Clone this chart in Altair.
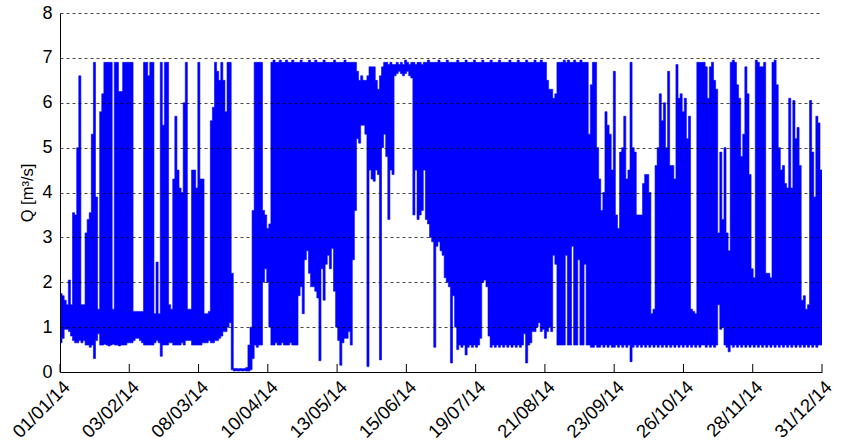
import altair as alt
import pandas as pd

# Daily maximum / minimum of the flow Q [m3/s] (day 0 = 01/01/14)
DAY_HIGH = [
    1.75, 1.7, 1.6, 1.5, 2.05, 1.5, 3.55, 3.5, 5.0, 6.6,
    1.5, 1.5, 3.1, 3.4, 3.55, 5.3, 6.9, 3.9, 1.4, 5.8,
    6.2, 6.9, 6.9, 6.9, 6.9, 1.4, 6.9, 6.9, 6.25, 6.25,
    6.9, 6.9, 6.9, 6.9, 6.9, 1.35, 1.35, 1.35, 1.35, 1.35,
    6.9, 6.9, 6.6, 6.9, 6.9, 1.3, 2.45, 1.3, 6.9, 5.5,
    6.9, 6.9, 1.5, 1.4, 4.3, 5.7, 4.5, 4.1, 4.0, 6.0,
    6.9, 1.4, 1.4, 4.5, 4.5, 4.1, 6.9, 4.3, 4.3, 1.3,
    1.3, 1.35, 5.6, 5.9, 6.9, 6.7, 6.5, 6.9, 6.5, 5.8,
    6.9, 6.9, 2.2, 0.08, 0.08, 0.07, 0.08, 0.07, 0.08, 0.1,
    0.6, 1.0, 3.6, 6.9, 6.9, 6.9, 6.9, 3.6, 3.5, 3.2,
    3.3, 6.9, 6.95, 6.9, 6.9, 6.95, 6.9, 6.9, 6.95, 6.9,
    6.9, 6.95, 6.9, 6.9, 6.9, 6.95, 6.9, 6.9, 6.9, 6.95,
    6.9, 6.9, 6.95, 6.9, 6.9, 6.9, 6.95, 6.9, 6.9, 6.9,
    6.9, 6.95, 6.9, 6.9, 6.9, 6.9, 6.95, 6.9, 6.9, 6.9,
    6.9, 6.9, 6.7, 6.5, 6.6, 6.5, 6.5, 6.6, 6.8, 6.8,
    6.8, 6.5, 6.3, 6.6, 6.8, 6.9, 6.9, 6.85, 6.9, 6.85,
    6.85, 6.9, 6.85, 6.9, 6.85, 6.95, 6.9, 6.85, 6.9, 6.9,
    6.85, 6.9, 6.9, 6.85, 6.9, 6.9, 6.95, 6.9, 6.9, 6.9,
    6.9, 6.95, 6.9, 6.9, 6.9, 6.95, 6.9, 6.9, 6.9, 6.9,
    6.95, 6.9, 6.9, 6.9, 6.95, 6.9, 6.9, 6.9, 6.95, 6.9,
    6.9, 6.9, 6.95, 6.9, 6.9, 6.9, 6.95, 6.9, 6.9, 6.9,
    6.95, 6.9, 6.9, 6.9, 6.9, 6.95, 6.9, 6.9, 6.9, 6.95,
    6.9, 6.9, 6.9, 6.95, 6.9, 6.9, 6.9, 6.95, 6.9, 6.9,
    6.95, 6.9, 6.9, 6.5, 6.3, 6.3, 6.1, 6.2, 6.9, 6.9,
    6.9, 6.95, 6.9, 6.95, 6.9, 6.9, 6.95, 6.9, 6.9, 6.95,
    6.9, 6.9, 6.9, 5.3, 6.4, 6.9, 6.9, 5.0, 4.3, 3.6,
    4.0, 5.8, 5.5, 5.3, 4.5, 6.7, 3.5, 3.2, 4.9, 5.0,
    5.7, 4.3, 4.5, 6.9, 5.0, 4.9, 3.5, 3.5, 3.5, 4.2,
    4.4, 4.4, 4.0, 1.3, 1.4, 4.6, 5.0, 6.2, 5.6, 6.0,
    5.0, 6.7, 4.6, 4.6, 4.3, 6.85, 6.1, 6.2, 5.8, 6.1,
    5.2, 5.7, 1.4, 1.35, 1.3, 6.9, 6.9, 6.9, 6.9, 6.8,
    6.1, 6.8, 6.9, 6.5, 6.3, 3.1, 4.9, 3.4, 5.0, 3.1,
    2.7, 6.9, 6.95, 6.9, 6.4, 6.1, 4.8, 5.3, 6.8, 6.2,
    4.4, 2.3, 2.1, 6.95, 6.9, 6.8, 6.8, 6.9, 2.2, 2.2,
    2.1, 6.9, 6.95, 6.4, 5.0, 4.5, 4.6, 4.2, 4.1, 6.1,
    4.1, 6.05, 5.2, 5.45, 4.6, 1.6, 1.7, 1.4, 1.5, 6.05,
    4.9, 3.9, 5.7, 5.55, 4.5,
]

DAY_LOW = [
    0.65, 0.75, 0.95, 0.95, 0.9, 0.8, 0.7, 0.65, 0.65, 0.7,
    0.65, 0.7, 0.6, 0.6, 0.55, 0.6, 0.3, 0.7, 0.85, 0.6,
    0.6, 0.62, 0.6, 0.58, 0.6, 0.62, 0.6, 0.6, 0.58, 0.6,
    0.6, 0.6, 0.65, 0.65, 0.65, 0.7, 0.75, 0.75, 0.7, 0.65,
    0.6, 0.6, 0.6, 0.6, 0.6, 0.65, 0.7, 0.65, 0.35, 0.6,
    0.6, 0.6, 0.65, 0.65, 0.6, 0.6, 0.6, 0.6, 0.65, 0.6,
    0.7, 0.7, 0.7, 0.6, 0.6, 0.6, 0.6, 0.6, 0.65, 0.65,
    0.65, 0.7, 0.65, 0.65, 0.7, 0.7, 0.75, 0.8, 0.9, 0.9,
    1.0, 1.1, 0.05, 0.02, 0.03, 0.02, 0.03, 0.02, 0.03, 0.02,
    0.02, 0.05, 0.3, 0.6, 0.55, 0.6, 0.6, 2.0, 2.3, 2.0,
    1.0, 0.6, 0.6, 0.65, 0.6, 0.6, 0.65, 0.6, 0.6, 0.6,
    0.65, 0.6, 0.6, 0.6, 1.7, 1.9, 1.3, 2.5, 2.7, 2.2,
    1.9, 1.9, 1.8, 1.65, 0.25, 2.3, 1.6, 2.4, 2.6, 2.3,
    2.75, 1.8, 1.0, 0.7, 0.15, 0.65, 0.75, 0.75, 0.9, 0.6,
    2.5, 3.6, 5.2, 5.1, 5.5, 5.5, 5.3, 0.12, 4.5, 4.3,
    4.25, 4.5, 4.4, 0.27, 5.0, 5.3, 4.8, 3.4, 4.5, 4.4,
    6.6, 6.65, 6.7, 6.65, 6.6, 6.65, 6.7, 6.6, 6.55, 3.5,
    4.5, 3.4, 3.5, 3.6, 4.5, 3.4, 3.3, 3.0, 2.9, 0.55,
    2.8, 2.9, 2.7, 2.6, 2.1, 2.0, 1.9, 0.2, 1.7, 1.0,
    0.5, 0.6, 0.55, 0.6, 0.38, 0.55, 0.6, 0.55, 0.6, 0.55,
    0.6, 0.75, 2.0, 2.05, 1.9, 0.8, 0.55, 0.6, 0.55, 0.6,
    0.55, 0.6, 0.55, 0.6, 0.55, 0.6, 0.55, 0.6, 0.55, 0.6,
    0.55, 0.6, 0.85, 0.2, 0.6, 0.65, 0.9, 0.9, 1.0, 1.1,
    0.9, 0.95, 0.75, 0.9, 1.0, 0.9, 2.6, 2.4, 0.6, 0.6,
    0.6, 0.6, 2.6, 0.6, 0.6, 2.8, 0.6, 0.6, 2.5, 0.6,
    0.6, 2.4, 0.6, 0.6, 0.55, 0.55, 0.6, 0.55, 0.55, 0.6,
    0.55, 0.6, 0.55, 0.6, 0.55, 0.55, 0.6, 0.55, 0.6, 0.55,
    0.6, 0.55, 0.6, 0.23, 0.55, 0.6, 0.55, 0.6, 0.55, 0.6,
    0.55, 0.6, 0.55, 0.6, 0.55, 0.6, 0.55, 0.6, 0.55, 0.6,
    0.55, 0.6, 0.55, 0.6, 0.55, 0.6, 0.55, 0.6, 0.55, 0.6,
    0.55, 0.6, 0.55, 0.6, 0.55, 0.6, 0.55, 0.6, 0.6, 0.55,
    0.6, 0.55, 0.6, 0.55, 0.6, 1.5, 0.95, 1.0, 0.6, 0.55,
    0.45, 0.6, 0.55, 0.6, 0.55, 0.6, 0.55, 0.6, 0.55, 0.6,
    0.55, 0.6, 0.55, 0.6, 0.55, 0.6, 0.55, 0.6, 0.55, 0.6,
    0.55, 0.6, 0.55, 0.6, 0.55, 0.6, 0.55, 0.6, 0.55, 0.6,
    0.55, 0.6, 0.55, 0.6, 0.55, 0.6, 0.55, 0.6, 0.55, 0.6,
    0.55, 0.6, 0.55, 0.6, 0.6,
]

X_TICK_LABELS = ["01/01/14", "03/02/14", "08/03/14", "10/04/14", "13/05/14", "15/06/14",
                 "19/07/14", "21/08/14", "23/09/14", "26/10/14", "28/11/14", "31/12/14"]
Y_TICKS = [0, 1, 2, 3, 4, 5, 6, 7, 8]

FONT = "Liberation Sans"

# one row per day (day start), plus a closing row so the last day keeps its width
n = min(len(DAY_LOW), len(DAY_HIGH))
days = list(range(n)) + [n]
lows = list(DAY_LOW[:n]) + [DAY_LOW[n - 1]]
highs = list(DAY_HIGH[:n]) + [DAY_HIGH[n - 1]]
df = pd.DataFrame({"t": days, "lo": lows, "hi": highs})

SPAN = round(364 + 23 / 24, 4)
STEP = SPAN / (len(X_TICK_LABELS) - 1)
tick_pos = [round(i * STEP, 4) for i in range(len(X_TICK_LABELS))]
label_expr = "[" + ",".join("'%s'" % s for s in X_TICK_LABELS) + "][round(datum.value / %.6f)]" % STEP
ticks_df = pd.DataFrame({"t": tick_pos})

x_scale = alt.Scale(domain=[0, SPAN], nice=False, zero=False)
y_scale = alt.Scale(domain=[0, 8], nice=False)

flow = alt.Chart(df).mark_area(
    color="#0000ff", interpolate="step-after", clip=True,
    stroke="#0000ff", strokeWidth=0.6, opacity=1
).encode(
    x=alt.X("t:Q", scale=x_scale, axis=alt.Axis(
        values=tick_pos, labelExpr=label_expr, labelAngle=315,
        labelAlign="right", labelBaseline="top", labelPadding=5,
        labelFont=FONT, labelFontSize=18.5, labelColor="black",
        tickSize=0, grid=False, domainColor="black", domainWidth=1,
        title=None, labelOverlap=False, labelBound=False, labelFlush=False)),
    y=alt.Y("lo:Q", scale=y_scale, axis=alt.Axis(
        values=Y_TICKS, format="d", grid=True, gridColor="black",
        gridDash=[3, 3], gridWidth=0.8, gridOpacity=0.9,
        tickSize=0, labelPadding=8, labelFont=FONT, labelFontSize=18,
        labelColor="black", domainColor="black", domainWidth=1,
        title="Q [m³/s]", titleFont=FONT, titleFontSize=16.5,
        titleFontWeight="normal", titleColor="black", titlePadding=6,
        zindex=1)),
    y2="hi:Q",
)

xticks = alt.Chart(ticks_df).mark_rule(color="black", strokeWidth=1).encode(
    x=alt.X("t:Q", scale=x_scale),
    y=alt.value(359), y2=alt.value(351),
)

chart = alt.layer(flow, xticks).properties(
    width=762, height=359,
    padding={"left": 60, "top": 13, "right": 23, "bottom": 72},
    autosize=alt.AutoSizeParams(type="none"),
    background="white",
).configure_view(stroke=None)

chart.save("out.html", embed_options={"renderer": "svg", "actions": False})
